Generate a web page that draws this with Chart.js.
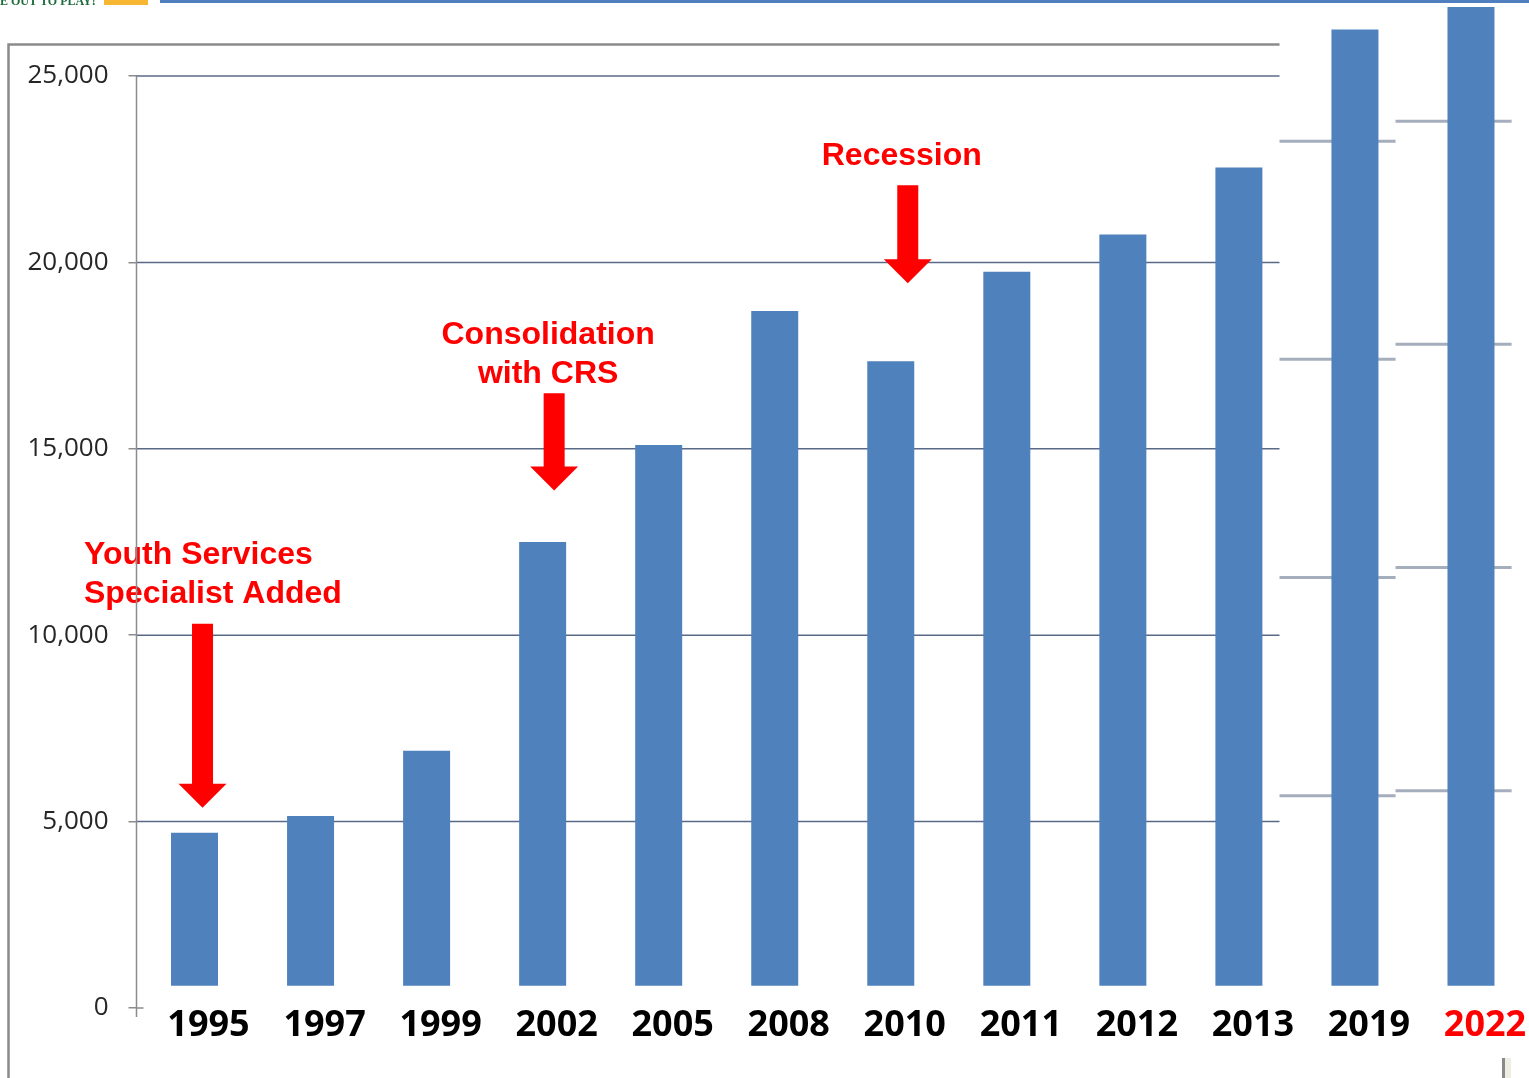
<!DOCTYPE html>
<html>
<head>
<meta charset="utf-8">
<title>Yearly totals 1995 - 2022</title>
<script src="https://cdn.jsdelivr.net/npm/chart.js@4.4.1/dist/chart.umd.min.js"></script>
<style>
    html, body { margin: 0; padding: 0; background: #ffffff; overflow: hidden; }
    #chart { display: block; }
</style>
</head>
<body>
<canvas id="chart" width="1529" height="1078"></canvas>
<script>

const years = ['1995', '1997', '1999', '2002', '2005', '2008', '2010', '2011', '2012', '2013', '2019', '2022'];
const totals = [4700, 5150, 6900, 12500, 15100, 18700, 17350, 19750, 20750, 22550, 26250, 26850];
const yTicks = [0, 5000, 10000, 15000, 20000, 25000];
const panelTicks = [5000, 10000, 15000, 20000];

// callouts: arrow runs from tail down to tip (y values), text baseline at textAt
const notes = [
    { year: '1995', lines: ['Youth Services', 'Specialist Added'], tail: 10310, tip: 5370, textAt: 11900, align: 'left', shift: 8, dx: -118.5 },
    { year: '2002', lines: ['Consolidation', 'with CRS'], tail: 16490, tip: 13880, textAt: 17800, align: 'center', shift: 11.5, dx: -6 },
    { year: '2010', lines: ['Recession'], tail: 22070, tip: 19440, textAt: 22610, align: 'center', shift: 17, dx: -6 }
];

const LABEL_SHIFT = 14;
// category positions where the 2019 and 2022 panels start/end
const SPLITS = [9.35, 10.35, 11.35];

function drawArrow(ctx, x, yTail, yTip) {
    const shaft = 10.5, head = 24, headLen = 24;
    ctx.beginPath();
    ctx.moveTo(x - shaft, yTail);
    ctx.lineTo(x + shaft, yTail);
    ctx.lineTo(x + shaft, yTip - headLen);
    ctx.lineTo(x + head, yTip - headLen);
    ctx.lineTo(x, yTip);
    ctx.lineTo(x - head, yTip - headLen);
    ctx.lineTo(x - shaft, yTip - headLen);
    ctx.closePath();
    ctx.fill();
}

const panelGrid = {
    id: 'panelGrid',
    beforeDraw(chart) {
        const ctx = chart.ctx;
        ctx.save();
        ctx.fillStyle = '#ffffff';
        ctx.fillRect(0, 0, chart.width, chart.height);
        ctx.restore();
    },
    beforeDatasetsDraw(chart) {
        const { ctx, chartArea, scales } = chart;
        const cut = SPLITS.map(v => scales.x.getPixelForValue(v));
        ctx.save();
        ctx.strokeStyle = '#5a6a86';
        ctx.lineWidth = 1.5;
        yTicks.filter(v => v > 0).forEach(v => {
            const py = scales.y.getPixelForValue(v);
            ctx.beginPath();
            ctx.moveTo(chartArea.left, py);
            ctx.lineTo(cut[0], py);
            ctx.stroke();
        });
        // the two right panels carry their own, larger scale
        ctx.strokeStyle = 'rgba(125, 140, 160, 0.7)';
        ctx.lineWidth = 3;
        ['yA', 'yB'].forEach((id, k) => {
            panelTicks.forEach(v => {
                const py = scales[id].getPixelForValue(v);
                ctx.beginPath();
                ctx.moveTo(cut[k], py);
                ctx.lineTo(cut[k + 1], py);
                ctx.stroke();
            });
        });
        ctx.restore();
    },
    afterDatasetsDraw(chart) {
        const { ctx, scales } = chart;
        ctx.save();
        ctx.fillStyle = '#ff0000';
        ctx.font = 'bold 32px "Liberation Sans", Arial, sans-serif';
        ctx.textBaseline = 'alphabetic';
        notes.forEach(n => {
            const ax = scales.x.getPixelForValue(years.indexOf(n.year)) + n.shift;
            drawArrow(ctx, ax, scales.y.getPixelForValue(n.tail), scales.y.getPixelForValue(n.tip));
            ctx.textAlign = n.align;
            const ty = scales.y.getPixelForValue(n.textAt);
            n.lines.forEach((t, k) => ctx.fillText(t, ax + n.dx, ty + k * 39));
        });
        ctx.restore();
    },
    afterDraw(chart) {
        const { ctx, chartArea, scales } = chart;
        const cut = scales.x.getPixelForValue(SPLITS[0]);
        const y0 = scales.y.getPixelForValue(0);
        ctx.save();
        // value axis line
        ctx.strokeStyle = '#8c8c8c';
        ctx.lineWidth = 1.5;
        ctx.beginPath();
        ctx.moveTo(chartArea.left, scales.y.getPixelForValue(25000));
        ctx.lineTo(chartArea.left, y0 + 9);
        ctx.moveTo(chartArea.left, y0);
        ctx.lineTo(chartArea.left + 7, y0);
        ctx.stroke();
        // slide frame
        ctx.strokeStyle = '#8a8a8a';
        ctx.lineWidth = 2.5;
        ctx.beginPath();
        ctx.moveTo(8.5, chart.height);
        ctx.lineTo(8.5, 44.5);
        ctx.lineTo(cut, 44.5);
        ctx.stroke();
        // header strip
        ctx.fillStyle = '#4f7fbf';
        ctx.fillRect(160, 0, chart.width - 160, 3);
        ctx.fillStyle = '#f7b733';
        ctx.fillRect(104, 0, 44, 5);
        ctx.fillStyle = '#1d6b3c';
        ctx.font = 'bold 12px "Liberation Serif", serif';
        ctx.textAlign = 'left';
        ctx.textBaseline = 'alphabetic';
        ctx.fillText('E OUT TO PLAY!', 0, 5);
        // corner mark
        ctx.fillStyle = '#8a8a8a';
        ctx.fillRect(1502, 1058, 3, 20);
        ctx.fillStyle = '#efeee2';
        ctx.fillRect(1505, 1058, 6, 20);
        ctx.restore();
    }
};

function barChart(id) {
    new Chart(
    document.getElementById(id),
    {
        type: 'bar',
        data: {
            labels: years,
            datasets: [{
                data: totals,
                backgroundColor: '#4f81bd',
                base: 600,
                barPercentage: 0.405,
                categoryPercentage: 1
            }]
        },
        options: {
            responsive: false,
            animation: false,
            layout: {
                padding: { top: 1.5, right: 0, bottom: 42, left: 0 }
            },
            plugins: {
                legend: { display: false },
                title: { display: false },
                tooltip: { enabled: false }
            },
            scales: {
                x: {
                    afterFit: s => { s.paddingLeft = 0; s.paddingRight = 0; },
                    ticks: {
                        autoSkip: false,
                        maxRotation: 0,
                        padding: -8,
                        labelOffset: LABEL_SHIFT,
                        color: ctx => years[ctx.index] === '2022' ? '#ff0000' : '#000000',
                        font: { family: 'Open Sans', size: 36, weight: 'bold', lineHeight: 1 }
                    },
                    grid: { display: false },
                    border: { display: false }
                },
                y: {
                    min: 0,
                    max: 27000,
                    afterBuildTicks: s => { s.ticks = yTicks.map(v => ({ value: v })); },
                    afterFit: s => { s.width = 136.5; s.paddingTop = 0; s.paddingBottom = 0; },
                    ticks: {
                        padding: 20,
                        color: '#262626',
                        font: { family: 'Open Sans', size: 26 },
                        callback: v => v.toLocaleString('en-US')
                    },
                    grid: {
                        drawOnChartArea: false,
                        drawTicks: true,
                        tickLength: 8,
                        tickColor: '#8c8c8c',
                        lineWidth: 1.5
                    },
                    border: { display: false }
                },
                yA: { type: 'linear', display: false, min: 138, max: 23200 },
                yB: { type: 'linear', display: false, min: 135, max: 22680 }
            }
        },
        plugins: [panelGrid]
    }
    );
}

barChart('chart');
</script>
</body>
</html>
